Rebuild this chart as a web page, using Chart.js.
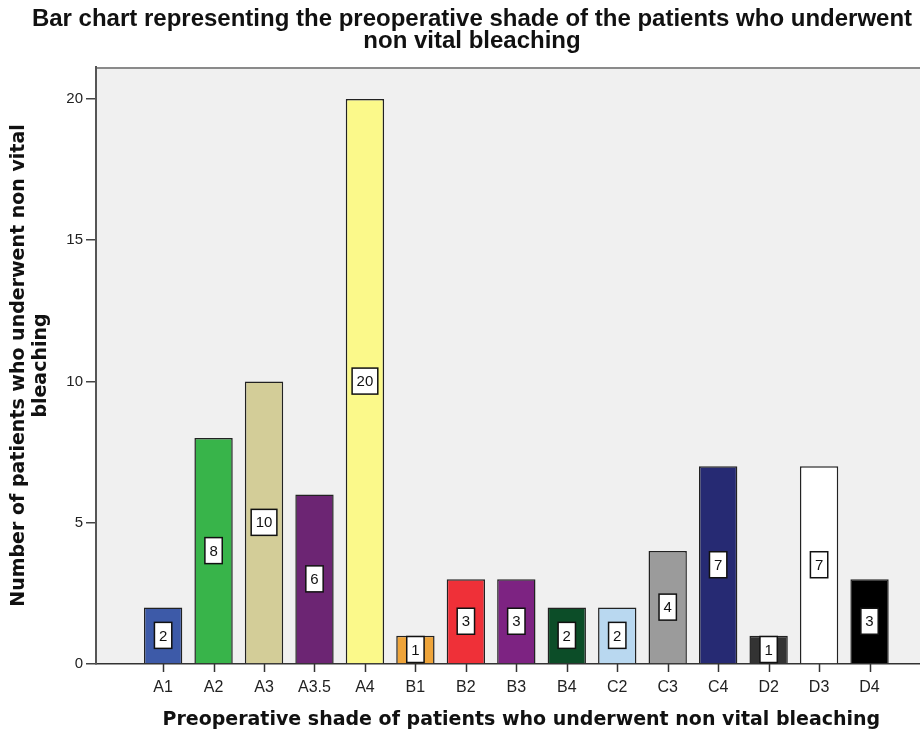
<!DOCTYPE html>
<html>
<head>
<meta charset="utf-8">
<script src="https://cdn.jsdelivr.net/npm/chart.js@4.4.1/dist/chart.umd.min.js"></script>
<style>
  html, body { margin: 0; padding: 0; background: #fff; }
</style>
</head>
<body>
<canvas id="shade-chart" width="920" height="734"></canvas>
<script>
const shades = ['A1', 'A2', 'A3', 'A3.5', 'A4', 'B1', 'B2', 'B3', 'B4', 'C2', 'C3', 'C4', 'D2', 'D3', 'D4'];
const patientCounts = [2, 8, 10, 6, 20, 1, 3, 3, 2, 2, 4, 7, 1, 7, 3];
const barColors = ['#3d5aa8', '#38b44a', '#d3cd98', '#6c2573', '#fbf98a', '#eea43a', '#ef3038', '#7d2382',
    '#0c4d28', '#b9d8f0', '#9b9b9b', '#262a73', '#333333', '#ffffff', '#000000'];
const yTicks = [0, 5, 10, 15, 20];
const chartTitle = ['Bar chart representing the preoperative shade of the patients who underwent', 'non vital bleaching'];
const xTitle = 'Preoperative shade of patients who underwent non vital bleaching';
const yTitle = ['Number of patients who underwent non vital', 'bleaching'];

const sans = '"Liberation Sans", Arial, sans-serif';

// grey panel, top border, x tick marks, value boxes and the titles
const panelPlugin = {
    id: 'panel',
    beforeDraw(chart) {
        const { ctx, chartArea: a } = chart;
        ctx.save();
        ctx.fillStyle = '#ffffff';
        ctx.fillRect(0, 0, chart.width, chart.height);
        ctx.fillStyle = '#f0f0f0';
        ctx.fillRect(a.left, a.top, a.right - a.left, a.bottom - a.top);
        ctx.strokeStyle = '#8a8a8a';
        ctx.lineWidth = 2;
        ctx.beginPath();
        ctx.moveTo(a.left, a.top + 1);
        ctx.lineTo(a.right, a.top + 1);
        ctx.stroke();
        ctx.restore();
    },
    afterDatasetsDraw(chart) {
        const { ctx, chartArea: a } = chart;
        const xs = chart.scales.x;
        const meta = chart.getDatasetMeta(0);
        ctx.save();
        ctx.strokeStyle = '#333333';
        ctx.lineWidth = 1.5;
        shades.forEach((s, i) => {
            const px = Math.round(xs.getPixelForValue(i)) + 0.5;
            ctx.beginPath();
            ctx.moveTo(px, a.bottom);
            ctx.lineTo(px, a.bottom + 8);
            ctx.stroke();
        });
        ctx.font = '15px ' + sans;
        ctx.textAlign = 'center';
        ctx.textBaseline = 'middle';
        meta.data.forEach((bar, i) => {
            const { x, y, base } = bar.getProps(['x', 'y', 'base'], true);
            const cy = (y + base) / 2;
            const label = String(patientCounts[i]);
            const w = ctx.measureText(label).width + 9;
            const h = 26;
            ctx.fillStyle = '#ffffff';
            ctx.fillRect(x - w / 2, cy - h / 2, w, h);
            ctx.strokeStyle = '#111111';
            ctx.lineWidth = 1.5;
            ctx.strokeRect(x - w / 2, cy - h / 2, w, h);
            ctx.fillStyle = '#111111';
            ctx.fillText(label, x, cy + 1);
        });
        ctx.restore();
    },
    afterDraw(chart) {
        const { ctx } = chart;
        const xs = chart.scales.x;
        ctx.save();
        ctx.fillStyle = '#111111';
        ctx.textAlign = 'center';
        ctx.textBaseline = 'middle';
        ctx.font = 'bold 24px ' + sans;
        ctx.fillText(chartTitle[0], 472, 19);
        ctx.fillText(chartTitle[1], 472, 41);
        ctx.font = 'bold 19px "DejaVu Sans", sans-serif';
        const mid = (xs.getPixelForValue(0) + xs.getPixelForValue(shades.length - 1)) / 2;
        ctx.fillText(xTitle, mid + 5, 720);
        ctx.restore();
    }
};

new Chart(document.getElementById('shade-chart'), {
    type: 'bar',
    data: {
        datasets: [{
            data: shades.map((s, i) => ({ x: i, y: patientCounts[i] })),
            backgroundColor: barColors,
            borderColor: '#222222',
            borderWidth: 1.5,
            categoryPercentage: 1,
            barPercentage: 0.76
        }]
    },
    options: {
        responsive: false,
        animation: false,
        devicePixelRatio: 1,
        layout: { padding: { top: 67, left: 0, right: 0, bottom: 0 } },
        plugins: {
            legend: { display: false },
            tooltip: { enabled: false }
        },
        scales: {
            x: {
                type: 'linear',
                offset: false,
                min: -1.33,
                max: 15,
                afterFit: (scale) => { scale.height = 70; },
                afterBuildTicks: (scale) => {
                    scale.ticks = shades.map((s, i) => ({ value: i }));
                },
                ticks: {
                    autoSkip: false,
                    maxRotation: 0,
                    padding: 14,
                    color: '#222222',
                    font: { family: sans, size: 16 },
                    callback: (v) => shades[v]
                },
                grid: { display: false, drawTicks: false },
                border: { display: true, color: '#333333', width: 1.5 }
            },
            y: {
                min: 0,
                max: 21.13,
                afterFit: (scale) => { scale.width = 96; },
                afterBuildTicks: (scale) => {
                    scale.ticks = yTicks.map(v => ({ value: v }));
                },
                ticks: {
                    padding: 3,
                    color: '#222222',
                    font: { family: sans, size: 15 }
                },
                grid: { drawOnChartArea: false, drawTicks: true, tickLength: 10, color: '#444444', lineWidth: 1.5 },
                border: { display: true, color: '#555555', width: 2 },
                title: {
                    display: true,
                    text: yTitle,
                    color: '#111111',
                    padding: { top: 8, bottom: 0 },
                    font: { family: '"DejaVu Sans", sans-serif', size: 19, weight: 'bold', lineHeight: 1.16 }
                }
            }
        }
    },
    plugins: [panelPlugin]
});
</script>
</body>
</html>
